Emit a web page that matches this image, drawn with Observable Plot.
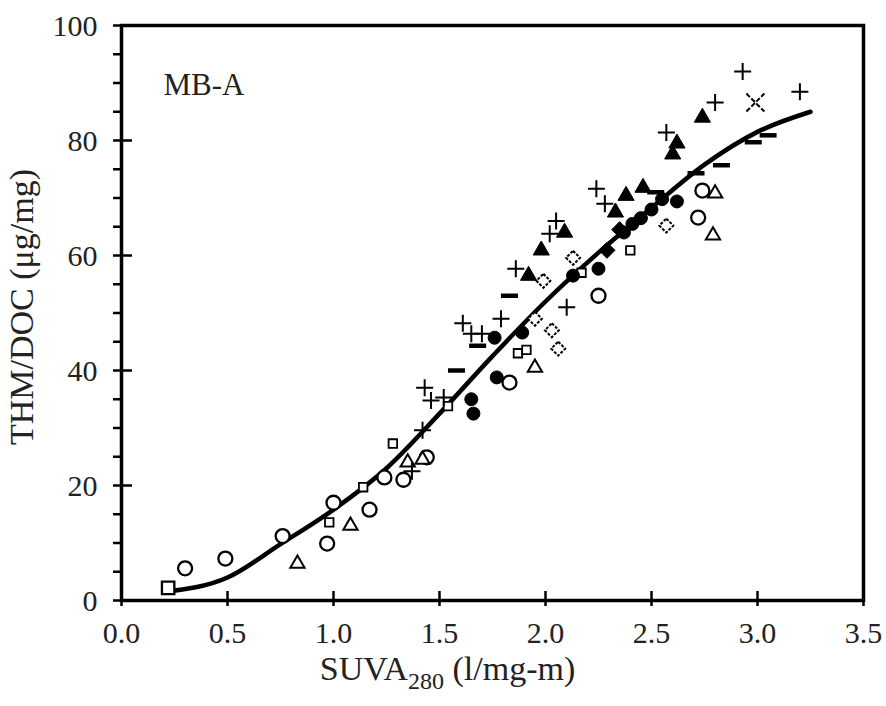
<!DOCTYPE html>
<html><head><meta charset="utf-8">
<script src="https://cdn.jsdelivr.net/npm/d3@7"></script>
<script src="https://cdn.jsdelivr.net/npm/@observablehq/plot@0.6"></script>
<style>body{margin:0;background:#fff}</style>
</head><body><div id="chart"></div>
<script>
// ---- data (x = SUVA280, y = THM/DOC) ----
const xTicks = [0, 0.5, 1.0, 1.5, 2.0, 2.5, 3.0, 3.5];
const yTicks = [0, 20, 40, 60, 80, 100];
const yMinorTicks = [5, 10, 15, 25, 30, 35, 45, 50, 55, 65, 70, 75, 85, 90, 95];

const fitCurve = [[0.2,1.5],[0.5,4],[0.75,9.8],[1.0,15.8],[1.25,23],[1.5,32.5],[1.75,42.5],[2.0,52],[2.25,60.5],[2.5,68.3],[2.75,75.8],[3.0,81.5],[3.25,85]];

const openCircles = [[0.30,5.6],[0.49,7.3],[0.76,11.2],[0.97,9.9],[1.00,17],[1.17,15.8],[1.24,21.4],[1.33,21],[1.44,24.9],[1.83,37.9],[2.25,53],[2.72,66.6],[2.74,71.3]];
const openSquares = [[0.98,13.6],[1.14,19.7],[1.28,27.3],[1.54,33.8],[1.87,43],[1.91,43.6],[2.17,57],[2.40,60.9]];
const bigSquares = [[0.22,2.2]];
const openTriangles = [[0.83,6.4],[1.08,13],[1.35,24],[1.42,24.5],[1.95,40.5],[2.79,63.5],[2.80,70.8]];
const openDiamonds = [[1.95,49],[1.99,55.6],[2.03,47],[2.06,43.8],[2.13,59.6],[2.57,65.2]];
const filledCircles = [[1.65,35],[1.66,32.5],[1.76,45.7],[1.77,38.8],[1.89,46.6],[2.13,56.5],[2.25,57.7],[2.37,64],[2.41,65.5],[2.45,66.5],[2.50,68],[2.55,69.8],[2.62,69.4]];
const filledDiamonds = [[2.29,60.9],[2.35,64.5]];
const filledTriangles = [[1.92,56.5],[1.98,60.9],[2.09,64],[2.33,67.5],[2.38,70.4],[2.46,71.8],[2.60,77.6],[2.62,79.5],[2.74,84]];
const pluses = [[1.37,22.5],[1.42,29.6],[1.43,37],[1.46,34.8],[1.52,35.3],[1.61,48.2],[1.65,46.4],[1.70,46.4],[1.79,49],[1.86,57.7],[2.02,63.8],[2.05,66],[2.10,51],[2.24,71.6],[2.28,69],[2.57,81.4],[2.80,86.6],[2.93,92],[3.20,88.5]];
const minuses = [[1.58,40],[1.68,44.3],[1.83,53],[2.52,71],[2.71,74.3],[2.83,75.7],[2.98,79.7],[3.05,80.9]];
const crosses = [[2.99,86.6]];

const panelLabel = "MB-A";
const xTitle = "SUVA280 (l/mg-m)";
const yTitle = "THM/DOC (μg/mg)";

// ---- custom symbols (r = half extent) ----
const sym = fn => ({draw(c, size) { const r = Math.sqrt(size / Math.PI); fn(c, r); }});
const plusSym = sym((c, r) => { c.moveTo(-r, 0); c.lineTo(r, 0); c.moveTo(0, -r); c.lineTo(0, r); });
const minusSym = sym((c, r) => { c.moveTo(-r, 0); c.lineTo(r, 0); });
const timesSym = sym((c, r) => { c.moveTo(-r, -r); c.lineTo(r, r); c.moveTo(-r, r); c.lineTo(r, -r); });
const rhombSym = sym((c, r) => { c.moveTo(0, -r); c.lineTo(r, 0); c.lineTo(0, r); c.lineTo(-r, 0); c.closePath(); });

const P = {x: d => d[0], y: d => d[1]};
const font = "Liberation Serif, Times New Roman, serif";
const W = 886, H = 706, mL = 121, mR = 23, mT = 25, mB = 106;
const fw = W - mL - mR, fh = H - mT - mB;

const chart = Plot.plot({
  width: W, height: H,
  marginLeft: mL, marginRight: mR, marginTop: mT, marginBottom: mB,
  style: {fontFamily: font, background: "white", color: "black"},
  x: {domain: [0, 3.5], axis: null},
  y: {domain: [0, 100], axis: null},
  marks: [
    Plot.line(fitCurve, {...P, stroke: "black", strokeWidth: 4.5, curve: "monotone-x"}),
    Plot.dot(openCircles, {...P, symbol: "circle", r: 7, fill: "white", stroke: "black", strokeWidth: 2.3}),
    Plot.dot(bigSquares, {...P, symbol: "square", r: 7, fill: "white", stroke: "black", strokeWidth: 2.3}),
    Plot.dot(openSquares, {...P, symbol: "square", r: 4.8, fill: "white", stroke: "black", strokeWidth: 1.8}),
    Plot.dot(openTriangles, {...P, symbol: "triangle", r: 5.3, fill: "white", stroke: "black", strokeWidth: 2}),
    Plot.dot(openDiamonds, {...P, symbol: rhombSym, r: 7, fill: "white", stroke: "black", strokeWidth: 2, strokeDasharray: "3,1.5"}),
    Plot.dot(filledCircles, {...P, symbol: "circle", r: 6.5, fill: "black", stroke: "black", strokeWidth: 1}),
    Plot.dot(filledDiamonds, {...P, symbol: rhombSym, r: 8, fill: "black", stroke: "black", strokeWidth: 1}),
    Plot.dot(filledTriangles, {...P, symbol: "triangle", r: 6, fill: "black", stroke: "black", strokeWidth: 1}),
    Plot.dot(pluses, {...P, symbol: plusSym, r: 8.5, fill: "none", stroke: "black", strokeWidth: 2}),
    Plot.dot(minuses, {...P, symbol: minusSym, r: 8.5, fill: "none", stroke: "black", strokeWidth: 4.5}),
    Plot.dot(crosses, {...P, symbol: timesSym, r: 9, fill: "none", stroke: "black", strokeWidth: 2, strokeDasharray: "5,2"}),
    Plot.frame({stroke: "black", strokeWidth: 3.5}),
    // y major ticks cross the axis, minor ticks outside only
    Plot.tickY(yTicks, {y: d => d, stroke: "black", strokeWidth: 2.5, insetLeft: -8, insetRight: fw - 11}),
    Plot.tickY(yMinorTicks, {y: d => d, stroke: "black", strokeWidth: 2.5, insetLeft: -8, insetRight: fw}),
    Plot.tickX(xTicks, {x: d => d, stroke: "black", strokeWidth: 2.5, insetTop: fh - 9, insetBottom: -6}),
    Plot.text(yTicks, {y: d => d, text: d => String(d), frameAnchor: "left", textAnchor: "end", dx: -24, dy: 1, fontSize: 30, fill: "#222"}),
    Plot.text(xTicks, {x: d => d, text: d => d3.format(".1f")(d), frameAnchor: "bottom", dy: 42, fontSize: 30, fill: "#222"}),
    Plot.text([panelLabel], {frameAnchor: "top-left", dx: 42, dy: 47, textAnchor: "start", fontSize: 31, fill: "#222"}),
    Plot.text([yTitle], {frameAnchor: "left", textAnchor: "middle", rotate: -90, dx: -99, dy: -6, fontSize: 34, fill: "#222"}),
    Plot.text([xTitle], {frameAnchor: "bottom", textAnchor: "middle", dx: -45, dy: 79, fontSize: 34, fill: "#222"})
  ]
});
document.getElementById("chart").appendChild(chart);

// subscript for SUVA280
d3.select(chart).selectAll("text").filter(function() { return this.textContent === xTitle; })
  .each(function() {
    const t = d3.select(this);
    t.text(null);
    t.append("tspan").text("SUVA");
    t.append("tspan").attr("dy", 9).attr("font-size", 24).text("280");
    t.append("tspan").attr("dy", -9).text(" (l/mg-m)");
  });
</script></body></html>
